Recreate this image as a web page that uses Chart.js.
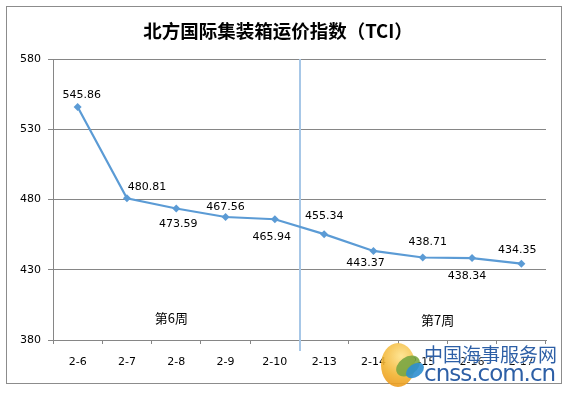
<!DOCTYPE html>
<html>
<head>
<meta charset="utf-8">
<script src="https://cdn.jsdelivr.net/npm/chart.js@4/dist/chart.umd.min.js"></script>
<style>
  html, body { margin: 0; padding: 0; background: #fff; }
  #wrap { position: relative; width: 568px; height: 394px; }
  #wm { position: absolute; left: 424px; top: 344px; color: #2d5fa6; line-height: 1; white-space: nowrap;
        text-shadow: 0 0 2px #fff, 0 0 2px #fff; }
  #wm .cn { font-size: 19px; font-family: "Noto Sans CJK SC", sans-serif; }
  #wm .en { font-size: 23px; font-family: "DejaVu Sans", sans-serif; margin-top: -1px; letter-spacing: -1px; }
  .logo { position: absolute; border-radius: 50%; opacity: 0.9; }
  #l1 { left: 381px; top: 343px; width: 34px; height: 44px; background: radial-gradient(circle at 60% 30%, #ffe38a, #f2b330 55%, #e98d12); }
  #l2 { left: 395px; top: 357px; width: 26px; height: 18px; background: #7aa642; transform: rotate(-35deg); }
  #l3 { left: 405px; top: 364px; width: 20px; height: 13px; background: #2d8fd0; transform: rotate(-35deg); }
</style>
</head>
<body>
<div id="wrap">
  <canvas id="chart" width="568" height="394"></canvas>
  <div class="logo" id="l1"></div><div class="logo" id="l2"></div><div class="logo" id="l3"></div>
  <div id="wm"><div class="cn">中国海事服务网</div><div class="en">cnss.com.cn</div></div>
</div>
<script>
// data
const dates = ['2-6', '2-7', '2-8', '2-9', '2-10', '2-13', '2-14', '2-15', '2-16', '2-17'];
const tciValues = [545.86, 480.81, 473.59, 467.56, 465.94, 455.34, 443.37, 438.71, 438.34, 434.35];
const yTicks = [380, 430, 480, 530, 580];
const weekLabels = ['第6周', '第7周'];
const chartTitle = '北方国际集装箱运价指数（TCI）';

// label placement relative to each point (px)
const labelOffsets = [
  [4, -12], [20, -11], [2, 16], [0, -10], [-3, 18],
  [0, -18], [-8, 12], [5, -15], [-5, 18], [-4, -13]
];
// week text anchors in data space [category index, value]
const weekAnchors = [[1.9, 395.5], [7.3, 394]];

const framePlugin = {
  id: 'frame',
  beforeDraw(chart) {
    const ctx = chart.ctx;
    ctx.save();
    ctx.fillStyle = '#fff';
    ctx.fillRect(0, 0, chart.width, chart.height);
    ctx.strokeStyle = '#8c8c8c';
    ctx.lineWidth = 1;
    ctx.strokeRect(6.5, 6.5, 555, 377);
    ctx.fillStyle = '#000';
    ctx.font = 'bold 18.5px "Noto Sans CJK SC", sans-serif';
    ctx.textAlign = 'center';
    ctx.textBaseline = 'middle';
    ctx.fillText(chartTitle, 278, 31);
    ctx.restore();
  }
};

const overlayPlugin = {
  id: 'overlay',
  beforeDatasetsDraw(chart) {
    const ctx = chart.ctx;
    const x = chart.scales.x;
    const area = chart.chartArea;
    // week separator between 2-10 and 2-13
    const sx = Math.round((x.getPixelForValue(4) + x.getPixelForValue(5)) / 2);
    ctx.save();
    ctx.strokeStyle = '#a7c7e7';
    ctx.lineWidth = 2;
    ctx.beginPath();
    ctx.moveTo(sx, area.top);
    ctx.lineTo(sx, area.bottom + 11);
    ctx.stroke();
    ctx.restore();
  },
  afterDatasetsDraw(chart) {
    const ctx = chart.ctx;
    const x = chart.scales.x;
    const y = chart.scales.y;
    const meta = chart.getDatasetMeta(0);
    ctx.save();
    ctx.fillStyle = '#000';
    ctx.textAlign = 'center';
    ctx.textBaseline = 'middle';
    ctx.font = '11px "DejaVu Sans", sans-serif';
    meta.data.forEach((pt, i) => {
      const off = labelOffsets[i];
      ctx.fillText(tciValues[i].toFixed(2), pt.x + off[0], pt.y + off[1]);
    });
    ctx.font = '13px "Noto Sans CJK SC", sans-serif';
    weekLabels.forEach((t, i) => {
      const a = weekAnchors[i];
      ctx.fillText(t, x.getPixelForValue(a[0]), y.getPixelForValue(a[1]));
    });
    ctx.restore();
  }
};

new Chart(document.getElementById('chart'), {
  type: 'line',
  data: {
    labels: dates,
    datasets: [{
      label: 'TCI',
      data: tciValues,
      borderColor: '#5b9bd5',
      backgroundColor: '#5b9bd5',
      borderWidth: 2.2,
      tension: 0,
      fill: false,
      pointStyle: 'rectRot',
      pointRadius: 4,
      pointBorderWidth: 0
    }]
  },
  options: {
    responsive: false,
    animation: false,
    layout: { padding: { left: 0, right: 22, top: 59, bottom: 23 } },
    plugins: {
      legend: { display: false },
      title: { display: false },
      tooltip: { enabled: false }
    },
    scales: {
      x: {
        offset: true,
        grid: {
          offset: true,
          drawOnChartArea: false,
          drawTicks: true,
          tickLength: 4,
          color: '#868686'
        },
        border: { color: '#868686' },
        ticks: {
          color: '#000',
          font: { family: 'DejaVu Sans', size: 11 },
          maxRotation: 0,
          autoSkip: false,
          padding: 12
        },
        afterFit(scale) { scale.height = 31; }
      },
      y: {
        min: 380,
        max: 580,
        afterBuildTicks(scale) { scale.ticks = yTicks.map(v => ({ value: v })); },
        grid: { color: '#868686', tickLength: 5 },
        border: { color: '#868686' },
        ticks: {
          color: '#000',
          font: { family: 'DejaVu Sans', size: 11 },
          padding: 7
        },
        afterFit(scale) { scale.width = 53; }
      }
    }
  },
  plugins: [framePlugin, overlayPlugin]
});
</script>
</body>
</html>
